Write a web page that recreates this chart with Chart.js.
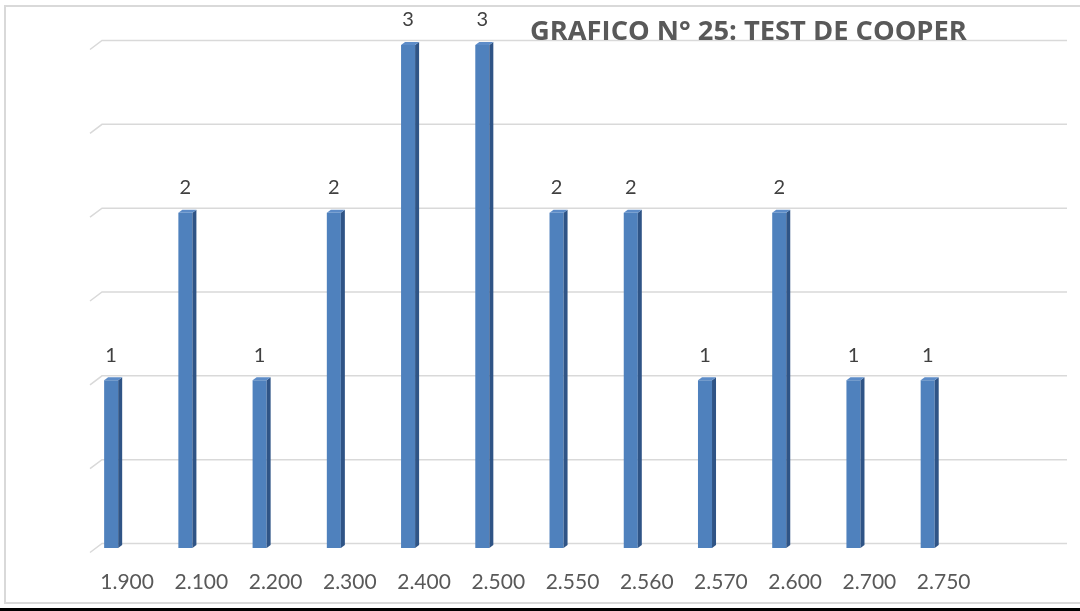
<!DOCTYPE html>
<html>
<head>
<meta charset="utf-8">
<script src="https://cdn.jsdelivr.net/npm/chart.js@4.4.1/dist/chart.umd.min.js"></script>
<style>
  html, body { margin: 0; padding: 0; background: #fff; overflow: hidden; }
  #wrap { position: relative; width: 1080px; height: 611px; }
  #frame { position: absolute; left: 4px; top: 5px; width: 1090px; height: 599px; border: 2px solid #d9d9d9; box-sizing: border-box; }
  #rule { position: absolute; left: 0; top: 608px; width: 1080px; height: 3px; background: #000; }
  canvas { position: absolute; left: 0; top: 0; }
</style>
</head>
<body>
<div id="wrap">
  <div id="frame"></div>
  <canvas id="chart" width="1080" height="611"></canvas>
  <div id="rule"></div>
</div>
<script>
const categories = ['1.900', '2.100', '2.200', '2.300', '2.400', '2.500', '2.550', '2.560', '2.570', '2.600', '2.700', '2.750', ''];
const counts = [1, 2, 1, 2, 3, 3, 2, 2, 1, 2, 1, 1, null];
const spacer = categories.map(() => null);
const gridValues = [0, 0.5, 1, 1.5, 2, 2.5, 3];
const chartTitle = 'GRAFICO N° 25: TEST DE COOPER';

const FRONT = '#4f81bd';
const SIDE = '#2f5486';
const TOP = '#5d8cc8';
const DEPTH_X = 4;
const DEPTH_Y = 3;

// gridlines drawn as a 3D back wall, shifted up and right from the bars
const wallGrid = {
  id: 'wallGrid',
  beforeDatasetsDraw(chart) {
    const { ctx, chartArea, scales } = chart;
    ctx.save();
    ctx.strokeStyle = '#d9d9d9';
    ctx.lineWidth = 1.5;
    gridValues.forEach((v) => {
      const y = scales.y.getPixelForValue(v) - 4.5;
      ctx.beginPath();
      ctx.moveTo(chartArea.left, y + 9);
      ctx.lineTo(chartArea.left + 12, y);
      ctx.lineTo(chartArea.right + 12, y);
      ctx.stroke();
    });
    ctx.restore();
  }
};

// side and top faces, value labels
const bars3d = {
  id: 'bars3d',
  afterDatasetsDraw(chart) {
    const { ctx } = chart;
    const meta = chart.getDatasetMeta(0);
    ctx.save();
    meta.data.forEach((bar, i) => {
      if (counts[i] == null) return;
      const { x, y, base, width } = bar.getProps(['x', 'y', 'base', 'width'], true);
      const l = x - width / 2;
      const r = x + width / 2;
      ctx.fillStyle = SIDE;
      ctx.beginPath();
      ctx.moveTo(r, y);
      ctx.lineTo(r + DEPTH_X, y - DEPTH_Y);
      ctx.lineTo(r + DEPTH_X, base - DEPTH_Y);
      ctx.lineTo(r, base);
      ctx.closePath();
      ctx.fill();
      ctx.fillStyle = TOP;
      ctx.beginPath();
      ctx.moveTo(l, y);
      ctx.lineTo(l + DEPTH_X, y - DEPTH_Y);
      ctx.lineTo(r + DEPTH_X, y - DEPTH_Y);
      ctx.lineTo(r, y);
      ctx.closePath();
      ctx.fill();
      ctx.fillStyle = '#404040';
      ctx.font = '20px Lato, "Open Sans", sans-serif';
      ctx.textAlign = 'center';
      ctx.textBaseline = 'middle';
      ctx.fillText(String(counts[i]), x, y - 25);
    });
    ctx.fillStyle = '#595959';
    ctx.font = 'bold 27.3px "Open Sans", Lato, sans-serif';
    ctx.textAlign = 'left';
    ctx.textBaseline = 'alphabetic';
    ctx.fillText(chartTitle, 530, 40);
    ctx.restore();
  }
};

new Chart(document.getElementById('chart'), {
  type: 'bar',
  data: {
    labels: categories,
    datasets: [
      {
        data: counts,
        backgroundColor: FRONT,
        borderWidth: 0,
        categoryPercentage: 0.86,
        barPercentage: 0.44,
      },
      {
        data: spacer,
        backgroundColor: 'rgba(0,0,0,0)',
        categoryPercentage: 0.86,
        barPercentage: 0.44,
      },
    ],
  },
  options: {
    responsive: false,
    animation: false,
    layout: {
      padding: { left: 90, right: 25, top: 45, bottom: 16 },
    },
    plugins: {
      legend: { display: false },
      tooltip: { enabled: false },
    },
    scales: {
      x: {
        grid: { display: false, drawTicks: false },
        border: { display: false },
        afterFit(scale) { scale.height = 47; },
        ticks: {
          color: '#595959',
          padding: 22,
          maxRotation: 0,
          autoSkip: false,
          font: { family: 'Lato, "Open Sans", sans-serif', size: 21 },
        },
      },
      y: {
        display: false,
        min: 0,
        max: 3,
      },
    },
  },
  plugins: [wallGrid, bars3d],
});
</script>
</body>
</html>
